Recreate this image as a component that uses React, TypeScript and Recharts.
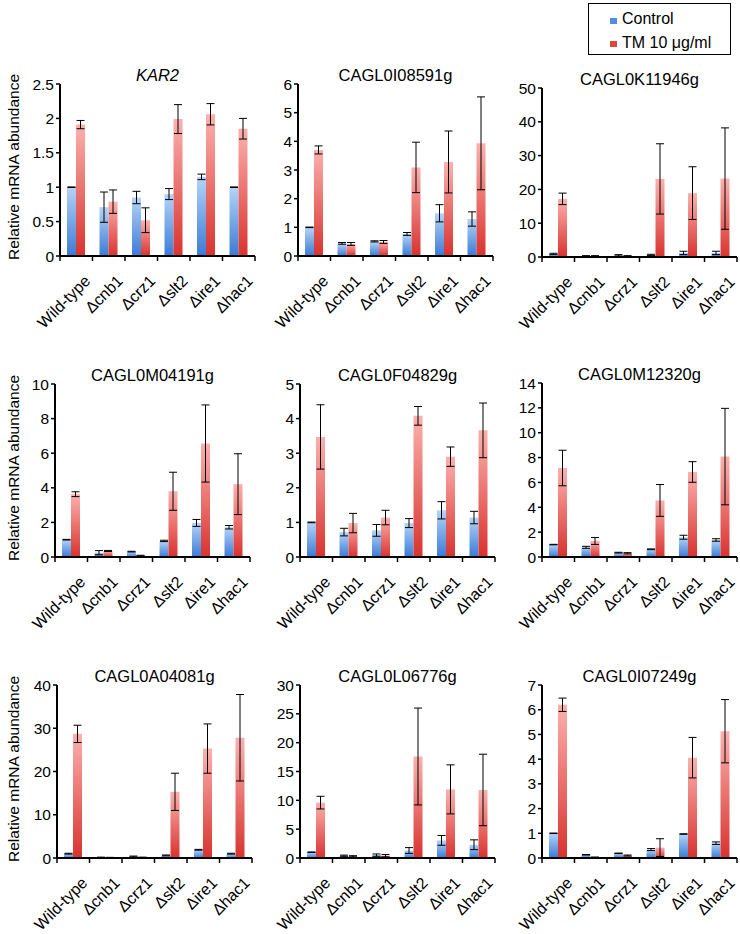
import { BarChart, Bar, XAxis, YAxis, ErrorBar } from "recharts";

// ── Data ──────────────────────────────────────────────────────────────

const categories = ["Wild-type", "Δcnb1", "Δcrz1", "Δslt2", "Δire1", "Δhac1"];

const kar2Control = [1.0, 0.71, 0.85, 0.9, 1.15, 1.0];
const kar2ControlErr = [0.004, 0.22, 0.09, 0.08, 0.04, 0.004];
const kar2Tm = [1.91, 0.79, 0.52, 1.99, 2.06, 1.85];
const kar2TmErr = [0.06, 0.17, 0.18, 0.21, 0.155, 0.15];

const i08591Control = [1.0, 0.44, 0.51, 0.77, 1.49, 1.29];
const i08591ControlErr = [0.01, 0.03, 0.02, 0.05, 0.3, 0.25];
const i08591Tm = [3.7, 0.42, 0.49, 3.09, 3.28, 3.93];
const i08591TmErr = [0.14, 0.05, 0.05, 0.88, 1.08, 1.62];

const k11946Control = [0.9, 0.3, 0.5, 0.6, 1.2, 1.2];
const k11946ControlErr = [0.2, 0.1, 0.2, 0.2, 0.5, 0.5];
const k11946Tm = [17.2, 0.3, 0.3, 23.1, 18.9, 23.2];
const k11946TmErr = [1.7, 0.1, 0.1, 10.4, 7.8, 15.0];

const m04191Control = [1.0, 0.25, 0.31, 0.93, 1.97, 1.72];
const m04191ControlErr = [0.02, 0.12, 0.02, 0.04, 0.2, 0.1];
const m04191Tm = [3.63, 0.35, 0.08, 3.8, 6.56, 4.21];
const m04191TmErr = [0.14, 0.03, 0.02, 1.1, 2.23, 1.76];

const f04829Control = [1.0, 0.72, 0.77, 0.98, 1.35, 1.14];
const f04829ControlErr = [0.01, 0.11, 0.17, 0.13, 0.25, 0.18];
const f04829Tm = [3.47, 0.98, 1.14, 4.08, 2.9, 3.66];
const f04829TmErr = [0.93, 0.28, 0.21, 0.27, 0.28, 0.79];

const m12320Control = [1.0, 0.78, 0.35, 0.62, 1.59, 1.37];
const m12320ControlErr = [0.02, 0.08, 0.03, 0.03, 0.16, 0.1];
const m12320Tm = [7.16, 1.29, 0.3, 4.55, 6.84, 8.08];
const m12320TmErr = [1.43, 0.28, 0.05, 1.28, 0.83, 3.88];

const a04081Control = [1.0, 0.15, 0.35, 0.6, 1.9, 1.0];
const a04081ControlErr = [0.1, 0.05, 0.1, 0.1, 0.1, 0.1];
const a04081Tm = [28.7, 0.1, 0.15, 15.3, 25.3, 27.8];
const a04081TmErr = [2.0, 0.05, 0.05, 4.3, 5.7, 10.0];

const l06776Control = [1.0, 0.4, 0.5, 1.3, 3.06, 2.3];
const l06776ControlErr = [0.05, 0.1, 0.2, 0.5, 0.85, 0.85];
const l06776Tm = [9.6, 0.3, 0.4, 17.6, 11.9, 11.8];
const l06776TmErr = [1.1, 0.1, 0.2, 8.4, 4.25, 6.2];

const i07249Control = [1.0, 0.13, 0.19, 0.34, 0.97, 0.6];
const i07249ControlErr = [0.01, 0.01, 0.01, 0.04, 0.01, 0.05];
const i07249Tm = [6.2, 0.03, 0.1, 0.42, 4.06, 5.13];
const i07249TmErr = [0.27, 0.01, 0.02, 0.36, 0.82, 1.28];

const ticks2_5 = [0, 0.5, 1, 1.5, 2, 2.5];
const ticks6 = [0, 1, 2, 3, 4, 5, 6];
const ticks50 = [0, 10, 20, 30, 40, 50];
const ticks10 = [0, 2, 4, 6, 8, 10];
const ticks5 = [0, 1, 2, 3, 4, 5];
const ticks14 = [0, 2, 4, 6, 8, 10, 12, 14];
const ticks40 = [0, 10, 20, 30, 40];
const ticks30 = [0, 5, 10, 15, 20, 25, 30];
const ticks7 = [0, 1, 2, 3, 4, 5, 6, 7];

// ── Layout ────────────────────────────────────────────────────────────

const FONT = '"Liberation Sans", Arial, sans-serif';
const PLOT_W = 195;
const Y_AXIS_W = 45;
const TOP_PAD = 12;
const X_AXIS_H = 80;

interface PanelSpec {
  title: string;
  italic?: boolean;
  control: number[];
  controlErr: number[];
  tm: number[];
  tmErr: number[];
  ticks: number[];
  axisX: number;
  topY: number;
  bottomY: number;
  yLabel?: boolean;
}

const panels: PanelSpec[] = [
  { title: "KAR2", italic: true, control: kar2Control, controlErr: kar2ControlErr, tm: kar2Tm, tmErr: kar2TmErr, ticks: ticks2_5, axisX: 60, topY: 84, bottomY: 256, yLabel: true },
  { title: "CAGL0I08591g", control: i08591Control, controlErr: i08591ControlErr, tm: i08591Tm, tmErr: i08591TmErr, ticks: ticks6, axisX: 298, topY: 84, bottomY: 256 },
  { title: "CAGL0K11946g", control: k11946Control, controlErr: k11946ControlErr, tm: k11946Tm, tmErr: k11946TmErr, ticks: ticks50, axisX: 542, topY: 88, bottomY: 257 },
  { title: "CAGL0M04191g", control: m04191Control, controlErr: m04191ControlErr, tm: m04191Tm, tmErr: m04191TmErr, ticks: ticks10, axisX: 55, topY: 384, bottomY: 557, yLabel: true },
  { title: "CAGL0F04829g", control: f04829Control, controlErr: f04829ControlErr, tm: f04829Tm, tmErr: f04829TmErr, ticks: ticks5, axisX: 300, topY: 384, bottomY: 557 },
  { title: "CAGL0M12320g", control: m12320Control, controlErr: m12320ControlErr, tm: m12320Tm, tmErr: m12320TmErr, ticks: ticks14, axisX: 542, topY: 383, bottomY: 557 },
  { title: "CAGL0A04081g", control: a04081Control, controlErr: a04081ControlErr, tm: a04081Tm, tmErr: a04081TmErr, ticks: ticks40, axisX: 57, topY: 685, bottomY: 858, yLabel: true },
  { title: "CAGL0L06776g", control: l06776Control, controlErr: l06776ControlErr, tm: l06776Tm, tmErr: l06776TmErr, ticks: ticks30, axisX: 300, topY: 685, bottomY: 858 },
  { title: "CAGL0I07249g", control: i07249Control, controlErr: i07249ControlErr, tm: i07249Tm, tmErr: i07249TmErr, ticks: ticks7, axisX: 542, topY: 685, bottomY: 858 },
];

// ── Custom x tick: boundary marks + rotated label ─────────────────────

function CategoryTick(props: any) {
  const { x, y, payload, index } = props;
  const bw = PLOT_W / categories.length;
  const tx = x + 15;
  const ty = y + 26;
  return (
    <g>
      <line x1={x - bw / 2} x2={x - bw / 2} y1={y} y2={y + 5} stroke="#000" strokeWidth={1.5} />
      {index === categories.length - 1 && (
        <line x1={x + bw / 2} x2={x + bw / 2} y1={y} y2={y + 5} stroke="#000" strokeWidth={1.5} />
      )}
      <text
        x={tx}
        y={ty}
        transform={`rotate(-45, ${tx}, ${ty})`}
        textAnchor="end"
        fontSize={16}
        fontFamily={FONT}
        fill="#000"
      >
        {payload.value}
      </text>
    </g>
  );
}

function Panel({ spec, idx }: { spec: PanelSpec; idx: number }) {
  const data = categories.map((c, i) => ({
    name: c,
    control: spec.control[i],
    controlErr: spec.controlErr[i],
    tm: spec.tm[i],
    tmErr: spec.tmErr[i],
  }));
  const plotH = spec.bottomY - spec.topY;
  const max = spec.ticks[spec.ticks.length - 1];
  const midY = (spec.topY + spec.bottomY) / 2 - 3;

  return (
    <>
      <div
        style={{
          position: "absolute",
          left: spec.axisX,
          width: PLOT_W,
          top: spec.topY - 3 - 14,
          textAlign: "center",
          fontSize: 16.5,
          lineHeight: "16px",
          fontStyle: spec.italic ? "italic" : "normal",
          color: "#000",
          whiteSpace: "nowrap",
        }}
      >
        {spec.title}
      </div>
      {spec.yLabel && (
        <div
          style={{
            position: "absolute",
            left: 13,
            top: midY,
            transform: "translate(-50%, -50%) rotate(-90deg)",
            fontSize: 15.5,
            lineHeight: "15px",
            whiteSpace: "nowrap",
            color: "#000",
          }}
        >
          Relative mRNA abundance
        </div>
      )}
      <div style={{ position: "absolute", left: spec.axisX - Y_AXIS_W, top: spec.topY - TOP_PAD }}>
        <BarChart
          width={Y_AXIS_W + PLOT_W + 6}
          height={TOP_PAD + plotH + X_AXIS_H}
          data={data}
          margin={{ top: TOP_PAD, right: 6, bottom: 0, left: 0 }}
          barSize={9}
          barGap={0}
        >
          <defs>
            <linearGradient id={`blueGrad${idx}`} x1="0" y1="0" x2="0" y2="1">
              <stop offset="0%" stopColor="#b4d4f7" />
              <stop offset="100%" stopColor="#3a7bd6" />
            </linearGradient>
            <linearGradient id={`redGrad${idx}`} x1="0" y1="0" x2="0" y2="1">
              <stop offset="0%" stopColor="#fbb1ae" />
              <stop offset="100%" stopColor="#d8332f" />
            </linearGradient>
          </defs>
          <XAxis
            dataKey="name"
            interval={0}
            height={X_AXIS_H}
            tickSize={0}
            tickMargin={0}
            tickLine={false}
            axisLine={{ stroke: "#000", strokeWidth: 2 }}
            tick={<CategoryTick />}
          />
          <YAxis
            type="number"
            domain={[0, max]}
            ticks={spec.ticks}
            width={Y_AXIS_W}
            tickSize={4}
            tickMargin={2}
            axisLine={{ stroke: "#000", strokeWidth: 2 }}
            tickLine={{ stroke: "#000", strokeWidth: 1.5 }}
            tick={{ fontSize: 15.5, fontFamily: FONT, fill: "#000" }}
            interval={0}
          />
          <Bar dataKey="control" fill={`url(#blueGrad${idx})`} isAnimationActive={false}>
            <ErrorBar dataKey="controlErr" width={4} stroke="#000" strokeWidth={1} direction="y" isAnimationActive={false} />
          </Bar>
          <Bar dataKey="tm" fill={`url(#redGrad${idx})`} isAnimationActive={false}>
            <ErrorBar dataKey="tmErr" width={4} stroke="#000" strokeWidth={1} direction="y" isAnimationActive={false} />
          </Bar>
        </BarChart>
      </div>
    </>
  );
}

function Legend() {
  return (
    <svg style={{ position: "absolute", left: 588, top: 3 }} width={143} height={52}>
      <rect x={0.5} y={0.5} width={142} height={51} fill="#fff" stroke="#000" strokeWidth={1} />
      <rect x={22} y={15} width={7} height={6} fill="#4f8fe0" />
      <text x={34} y={21} fontSize={16} fontFamily={FONT} fill="#000">Control</text>
      <rect x={22} y={38} width={7} height={6} fill="#e0443f" />
      <text x={34} y={45} fontSize={16} fontFamily={FONT} fill="#000">TM 10 μg/ml</text>
    </svg>
  );
}

export default function App() {
  return (
    <div
      style={{
        position: "absolute",
        left: 0,
        top: 0,
        width: 740,
        height: 934,
        background: "#fff",
        fontFamily: FONT,
        overflow: "hidden",
      }}
    >
      {panels.map((p, i) => (
        <Panel key={p.title} spec={p} idx={i} />
      ))}
      <Legend />
    </div>
  );
}
